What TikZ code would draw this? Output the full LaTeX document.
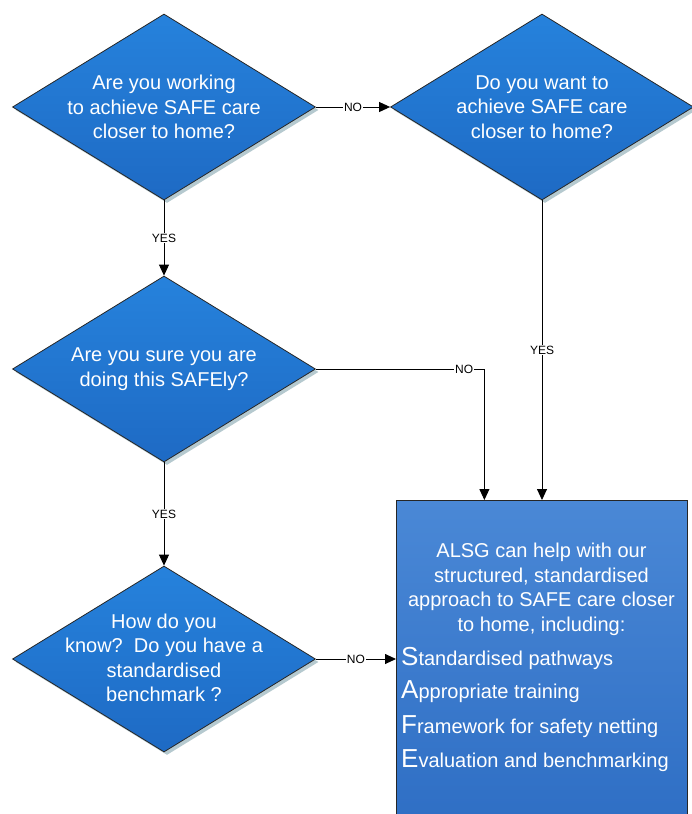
\documentclass[tikz,border=0pt]{standalone}
\usepackage{fontspec}
\setmainfont{Liberation Sans}
\usetikzlibrary{shapes.geometric,arrows.meta,shadows}
\definecolor{dtop}{RGB}{38,130,220}
\definecolor{dbot}{RGB}{30,106,196}
\definecolor{btop}{RGB}{74,136,214}
\definecolor{bbot}{RGB}{46,110,196}
\definecolor{shad}{RGB}{150,178,186}
\begin{document}
\begin{tikzpicture}[x=1pt,y=-1pt,
  decision/.style={diamond, draw=black!85, line width=0.8pt, inner sep=0pt,
    minimum width=303pt, minimum height=186pt, aspect=1.63,
    top color=dtop, bottom color=dbot,
    drop shadow={shadow xshift=3pt, shadow yshift=-3pt, fill=shad, opacity=0.7}},
  infobox/.style={rectangle, draw=black!85, line width=0.8pt, inner sep=0pt,
    top color=btop, bottom color=bbot},
  qtext/.style={text=white, align=center, font=\fontsize{20}{24.5}\selectfont, inner sep=0pt},
  safeline/.style={text=white, anchor=base west, font=\fontsize{20}{24}\selectfont, inner sep=0pt},
  conn/.style={draw=black, line width=0.9pt, -{Triangle[length=11pt,width=10pt]}},
  lab/.style={fill=white, inner sep=1pt, font=\fontsize{12}{13}\selectfont, text=black},
]
\useasboundingbox (0,0) rectangle (691,814);
\node[decision] (d1) at (164,107) {};
\node[decision] (d2) at (542,107) {};
\node[decision] (d3) at (164,369) {};
\node[decision] (d4) at (164,659) {};
\node[infobox, anchor=north west, minimum width=291pt, minimum height=330pt] (box) at (396,500) {};

\node[qtext] (t1) at (d1) {Are you working\\to achieve SAFE care\\closer to home?};
\node[qtext] (t2) at (d2) {Do you want to\\achieve SAFE care\\closer to home?};
\node[qtext] (t3) at (d3) {Are you sure you are\\doing this SAFEly?};
\node[qtext] (t4) at (164,658) {How do you\\know?\ \ Do you have a\\standardised\\benchmark ?};
\node[qtext] (t5) at (541.5,589.5) {ALSG can help with our\\structured, standardised\\approach to SAFE care closer\\to home, including:};

\node[safeline] (s1) at (401,665) {{\fontsize{26}{26}\selectfont S}tandardised pathways};
\node[safeline] (s2) at (401,698) {{\fontsize{26}{26}\selectfont A}ppropriate training};
\node[safeline] (s3) at (401,733) {{\fontsize{26}{26}\selectfont F}ramework for safety netting};
\node[safeline] (s4) at (401,767) {{\fontsize{26}{26}\selectfont E}valuation and benchmarking};

\draw[conn] (d1.east) -- node[lab]{NO} (d2.west);
\draw[conn] (d1.south) -- node[lab]{YES} (d3.north);
\draw[conn] (d3.south) -- node[lab]{YES} (d4.north);
\draw[conn] (d2.south) -- node[lab]{YES} (d2.south |- box.north);
\draw[conn] (d3.east) -| node[lab, pos=0.44]{NO} ([xshift=-57.5pt]box.north);
\draw[conn] (d4.east) -- node[lab]{NO} (d4.east -| box.west);
\end{tikzpicture}
\end{document}
